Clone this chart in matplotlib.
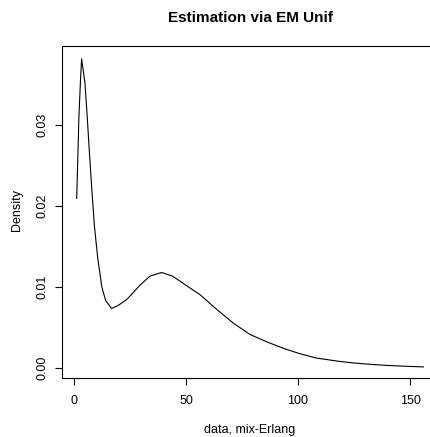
import matplotlib
matplotlib.use("Agg")
import matplotlib.pyplot as plt

# density curve (x, density)
x_vals = [1.2, 1.8, 2.2, 2.9, 3.4, 4.9, 5.9, 6.8, 7.9, 9.1, 10.6, 12.4, 14.1,
          16.8, 19.8, 23.5, 29.5, 33.9, 39.1, 44.0, 48.8, 56.3, 63.7, 71.1,
          78.6, 86.0, 93.4, 100.0, 108.0, 118.0, 125.0, 132.0, 140.0, 147.0, 156.0]
dens = [0.0209, 0.0269, 0.0310, 0.0355, 0.0381, 0.0351, 0.0310, 0.0269, 0.0222,
        0.0175, 0.0135, 0.0100, 0.0083, 0.0073, 0.0077, 0.0084, 0.0102, 0.0113,
        0.01175, 0.0113, 0.0104, 0.0090, 0.0072, 0.0055, 0.0041, 0.0032,
        0.0024, 0.0018, 0.0012, 0.0008, 0.00058, 0.00042, 0.00028, 0.00019, 0.0001]

x_ticks = [0, 50, 100, 150]
y_ticks = [0.00, 0.01, 0.02, 0.03]
y_ticklabels = ["0.00", "0.01", "0.02", "0.03"]

plt.rcParams['font.family'] = ['Liberation Sans', 'DejaVu Sans']

fig = plt.figure(figsize=(4.30, 4.37), dpi=100)
ax = fig.add_axes([62 / 430, 1 - 378 / 437, 376 / 430, 332 / 437])

ax.plot(x_vals, dens, color='black', lw=0.8)

ax.set_xlim(-5.36, 162.5)
ax.set_ylim(-0.00127, 0.0397)
ax.set_xticks(x_ticks)
ax.set_yticks(y_ticks)
ax.set_yticklabels(y_ticklabels, rotation=90, va='center')
ax.tick_params(direction='out', length=5, width=0.8, labelsize=9, colors='black')
ax.tick_params(axis='x', pad=7)
ax.tick_params(axis='y', pad=5)
for s in ax.spines.values():
    s.set_linewidth(0.8)
    s.set_color('black')

# axis labels and title placed as in the reference
fig.text(250 / 430, 1 - 430 / 437, "data, mix-Erlang", ha='center', va='center', fontsize=9)
fig.text(17 / 430, 1 - 210 / 437, "Density", ha='center', va='center', rotation=90, fontsize=9)
fig.text(250 / 430, 1 - 18 / 437, "Estimation via EM Unif", ha='center', va='center',
         fontsize=11, fontweight='bold')

fig.savefig("out.png", dpi=100)
